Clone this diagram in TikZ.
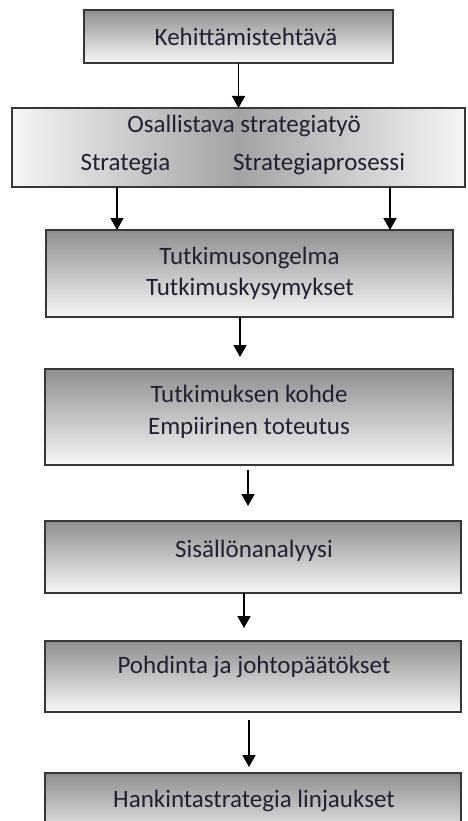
\documentclass[tikz,border=0pt]{standalone}
\usepackage{fontspec}
\setmainfont{Carlito}
\usetikzlibrary{arrows.meta}
\definecolor{inkc}{RGB}{32,32,52}
\definecolor{framec}{RGB}{55,55,55}
\tikzset{
  box/.style={draw=framec, line width=2.4pt, inner sep=0pt, outer sep=0pt,
    rectangle, top color=black!44, bottom color=black!3},
  hbox/.style={draw=framec, line width=2.4pt, inner sep=0pt, outer sep=0pt,
    rectangle, left color=black!4, right color=black!4, middle color=black!36},
  txt/.style={anchor=base, inner sep=0pt, text=inkc,
    font=\fontsize{25}{31}\selectfont},
  arr/.style={line width=1.6pt, -{Triangle[width=13pt,length=12pt]}}
}
\begin{document}
\begin{tikzpicture}[x=1pt, y=-1pt]
\clip (0,0) rectangle (467,821);
\fill[white] (0,0) rectangle (467,821);

% boxes of the process chain
\node[box, minimum width=309pt, minimum height=53pt] (b1) at (238.5,36.5) {};
\node[hbox, minimum width=453pt, minimum height=79pt] (b2) at (238.5,147.5) {};
\node[box, minimum width=407pt, minimum height=87pt] (b3) at (249.5,273.5) {};
\node[box, minimum width=408pt, minimum height=96pt] (b4) at (249,417) {};
\node[box, minimum width=416pt, minimum height=72pt] (b5) at (253,557) {};
\node[box, minimum width=416pt, minimum height=71pt] (b6) at (253,676.5) {};
\node[box, minimum width=416pt, minimum height=72pt] (b7) at (253,809) {};

% texts
\node[txt] (t1) at (246,46) {Kehittämistehtävä};
\node[txt] (t2a) at (244,133) {Osallistava strategiatyö};
\node[txt] (t2b) at (125.5,171) {Strategia};
\node[txt] (t2c) at (319,171) {Strategiaprosessi};
\node[txt] (t3a) at (249.5,264) {Tutkimusongelma};
\node[txt] (t3b) at (250,295) {Tutkimuskysymykset};
\node[txt] (t4a) at (249,402) {Tutkimuksen kohde};
\node[txt] (t4b) at (249,434) {Empiirinen toteutus};
\node[txt] (t5) at (254,557) {Sisällönanalyysi};
\node[txt] (t6) at (254,673) {Pohdinta ja johtopäätökset};
\node[txt] (t7) at (254,807) {Hankintastrategia linjaukset};

% connectors
\draw[arr] (b1.south) -- (b2.north);
\draw[arr] ([xshift=-121.5pt]b2.south) -- ([xshift=-121.5pt]b2.south |- b3.north);
\draw[arr] ([xshift=151.5pt]b2.south) -- ([xshift=151.5pt]b2.south |- b3.north);
\draw[arr, shorten >=12pt] ([xshift=-9.5pt]b3.south) -- ([xshift=-9.5pt]b3.south |- b4.north);
\draw[arr, shorten <=5pt, shorten >=15pt] ([xshift=-1pt]b4.south) -- ([xshift=-1pt]b4.south |- b5.north);
\draw[arr, shorten >=13pt] ([xshift=-9pt]b5.south) -- ([xshift=-9pt]b5.south |- b6.north);
\draw[arr, shorten <=8pt, shorten >=6pt] ([xshift=-4pt]b6.south) -- ([xshift=-4pt]b6.south |- b7.north);
\end{tikzpicture}
\end{document}
